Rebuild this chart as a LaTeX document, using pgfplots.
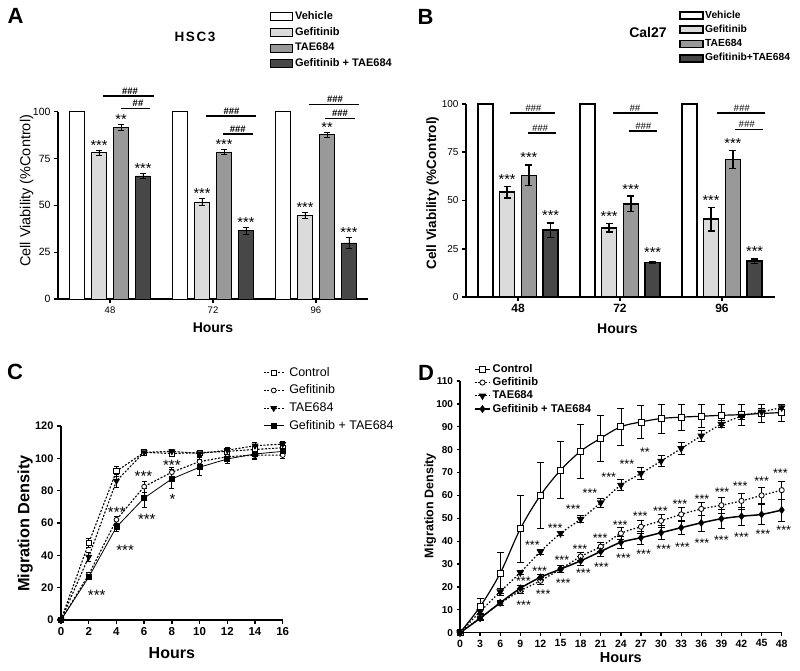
\documentclass[border=0pt]{standalone}
\usepackage{pgfplots}
\pgfplotsset{compat=1.18}
\usepackage{fontspec}
\setmainfont{Liberation Sans}
\newcommand{\fs}[1]{\fontsize{#1}{#1}\selectfont}
\definecolor{cgef}{gray}{0.86}
\definecolor{ctae}{gray}{0.6}
\definecolor{ccomb}{gray}{0.28}

\tikzset{
  starA/.style={font=\fs{14.5}, inner sep=0pt, anchor=base},
  starC/.style={font=\fs{15}, inner sep=0pt, anchor=center, yshift=-3.3pt},
  starD/.style={font=\fs{12.5}, inner sep=0pt, anchor=center, yshift=-2.7pt},
  sig/.style={font=\bfseries\fs{9.5}, inner sep=1.5pt, anchor=south},
}
\pgfplotsset{
  gp/.style={scale only axis, anchor=south west, axis lines=left, axis line style={-},
    tick align=outside, major tick length=4pt, tick style={black},
    /pgf/number format/assume math mode=true, clip=false, legend cell align=left},
  aboxA/.style={legend image code/.code={\draw[##1] (0pt,-4pt) rectangle (22pt,4pt); \path (24pt,0pt);}},
  aboxB/.style={legend image code/.code={\draw[##1] (0pt,-3.5pt) rectangle (23pt,3.5pt); \path (24.5pt,0pt);}},
  lineC/.style={legend image code/.code={\draw[mark repeat=2,mark phase=2,##1] plot coordinates {(0pt,0pt) (10pt,0pt) (20pt,0pt)}; \path (25pt,0pt);}},
  lineD/.style={legend image code/.code={\draw[mark repeat=2,mark phase=2,##1] plot coordinates {(0pt,0pt) (7.5pt,0pt) (15pt,0pt)}; \path (17pt,0pt);}},
  barA/.style={ybar, bar width=0.146, bar shift=0pt, draw=black, line width=0.8pt, aboxA},
  barB/.style={ybar, bar width=0.147, bar shift=0pt, draw=black, line width=1.6pt, aboxB},
  ebA/.style={error bars/.cd, y dir=both, y explicit,
    error bar style={line width=0.8pt, black, solid},
    error mark options={rotate=90, mark size=3pt, line width=0.8pt, black, solid}},
  ebB/.style={error bars/.cd, y dir=both, y explicit,
    error bar style={line width=1.3pt, black, solid},
    error mark options={rotate=90, mark size=3.5pt, line width=1.3pt, black, solid}},
  ebC/.style={error bars/.cd, y dir=both, y explicit,
    error bar style={line width=0.8pt, black, solid},
    error mark options={rotate=90, mark size=2.5pt, line width=0.8pt, black, solid}},
  ebD/.style={error bars/.cd, y dir=both, y explicit,
    error bar style={line width=0.7pt, black, solid},
    error mark options={rotate=90, mark size=3.5pt, line width=0.7pt, black, solid}},
}

\begin{document}
\begin{tikzpicture}
\path[use as bounding box] (0,0) rectangle (800pt,671pt);

% ---------------- A ----------------
\begin{axis}[gp, at={(58pt,372pt)}, width=310pt, height=187.3pt,
  xmin=0.495, xmax=3.505, ymin=0, ymax=100,
  xtick={1,2,3}, xticklabels={48,72,96}, ytick={0,25,50,75,100},
  axis line style={line width=1.2pt}, tick style={line width=1.2pt},
  xticklabel style={font=\fs{9.5}}, yticklabel style={font=\fs{10.5}},
  xlabel={Hours}, xlabel style={font=\bfseries\fs{14}, at={(axis description cs:0.5,-0.155)}, anchor=center},
  ylabel={Cell Viability (\%Control)}, ylabel style={font=\fs{14.5}, at={(axis description cs:-0.101,0.577)}, anchor=center},
  legend style={at={(axis description cs:0.684,1.535)}, anchor=north west, draw=none, fill=none,
    font=\bfseries\fs{11}, row sep=5.25pt, inner sep=0pt,
    nodes={inner sep=0pt, text height=8pt, text depth=2.4pt}},
]
\addplot[barA, fill=white] coordinates {(0.68,100) (1.68,100) (2.68,100)};
\addlegendentry{Vehicle}
\addplot[barA, fill=cgef, ebA] coordinates {(0.893,78) +- (0,1.5) (1.893,51.8) +- (0,2) (2.893,44.7) +- (0,1.5)};
\addlegendentry{Gefitinib}
\addplot[barA, fill=ctae, ebA] coordinates {(1.107,91.7) +- (0,1.5) (2.107,78.5) +- (0,1.5) (3.107,87.7) +- (0,1.2)};
\addlegendentry{TAE684}
\addplot[barA, fill=ccomb, ebA] coordinates {(1.32,65.7) +- (0,1.2) (2.32,36.5) +- (0,1.8) (3.32,29.9) +- (0,3)};
\addlegendentry{Gefitinib + TAE684}
% significance
\node[starA] at (axis cs:0.893,79.5) {***};
\node[starA] at (axis cs:1.893,53.8) {***};
\node[starA] at (axis cs:2.893,46.2) {***};
\node[starA] at (axis cs:1.107,93.2) {**};
\node[starA] at (axis cs:2.107,80) {***};
\node[starA] at (axis cs:3.107,88.9) {**};
\node[starA] at (axis cs:1.32,66.9) {***};
\node[starA] at (axis cs:2.32,38.3) {***};
\node[starA] at (axis cs:3.32,32.9) {***};
\draw[line width=1.1pt] (axis cs:0.932,108.4) -- (axis cs:1.427,108.4);
\node[sig] at (axis cs:1.194,108.4) {\#\#\#};
\draw[line width=1.1pt] (axis cs:1.104,101.8) -- (axis cs:1.388,101.8);
\node[sig] at (axis cs:1.272,101.8) {\#\#};
\draw[line width=1.1pt] (axis cs:1.929,97.7) -- (axis cs:2.417,97.7);
\node[sig] at (axis cs:2.18,97.7) {\#\#\#};
\draw[line width=1.1pt] (axis cs:2.094,88.1) -- (axis cs:2.385,88.1);
\node[sig] at (axis cs:2.24,88.1) {\#\#\#};
\draw[line width=1.1pt] (axis cs:2.929,103.9) -- (axis cs:3.42,103.9);
\node[sig] at (axis cs:3.184,103.9) {\#\#\#};
\draw[line width=1.1pt] (axis cs:3.087,96.3) -- (axis cs:3.381,96.3);
\node[sig] at (axis cs:3.233,96.3) {\#\#\#};
\end{axis}

% ---------------- B ----------------
\begin{axis}[gp, at={(466pt,374pt)}, width=309pt, height=193pt,
  xmin=0.49, xmax=3.52, ymin=0, ymax=100,
  xtick={1,2,3}, xticklabels={48,72,96}, ytick={0,25,50,75,100},
  axis line style={line width=2pt}, tick style={line width=1.6pt},
  xticklabel style={font=\bfseries\fs{12}}, yticklabel style={font=\fs{10}},
  xlabel={Hours}, xlabel style={font=\bfseries\fs{14}, at={(axis description cs:0.49,-0.166)}, anchor=center},
  ylabel={Cell Viability (\%Control)}, ylabel style={font=\bfseries\fs{13.5}, at={(axis description cs:-0.108,0.539)}, anchor=center},
  legend style={at={(axis description cs:0.689,1.485)}, anchor=north west, draw=none, fill=none,
    font=\bfseries\fs{10.3}, row sep=4.8pt, inner sep=0pt,
    nodes={inner sep=0pt, text height=7.5pt, text depth=2pt}},
]
\addplot[barB, fill=white] coordinates {(0.68,100) (1.68,100) (2.68,100)};
\addlegendentry{Vehicle}
\addplot[barB, fill=cgef, ebB] coordinates {(0.893,54.3) +- (0,3) (1.893,35.8) +- (0,2.1) (2.893,40.3) +- (0,6.1)};
\addlegendentry{Gefitinib}
\addplot[barB, fill=ctae, ebB] coordinates {(1.107,63) +- (0,5.4) (2.107,48.3) +- (0,4) (3.107,71.3) +- (0,4.7)};
\addlegendentry{TAE684}
\addplot[barB, fill=ccomb, ebB] coordinates {(1.32,34.6) +- (0,3.8) (2.32,17.8) +- (0,0.5) (3.32,18.5) +- (0,1.2)};
\addlegendentry{Gefitinib+TAE684}
\node[starA, yshift=2pt] at (axis cs:0.893,57.3) {***};
\node[starA, yshift=2pt] at (axis cs:1.893,37.9) {***};
\node[starA, yshift=2pt] at (axis cs:2.893,46.4) {***};
\node[starA, yshift=2pt] at (axis cs:1.107,68.4) {***};
\node[starA, yshift=2pt] at (axis cs:2.107,52.3) {***};
\node[starA, yshift=2pt] at (axis cs:3.107,76) {***};
\node[starA, yshift=2pt] at (axis cs:1.32,38.4) {***};
\node[starA, yshift=4pt] at (axis cs:2.32,18.3) {***};
\node[starA, yshift=2pt] at (axis cs:3.32,19.7) {***};
\draw[line width=1.4pt] (axis cs:0.922,95.3) -- (axis cs:1.36,95.3);
\node[sig, font=\itshape\fs{9.5}] at (axis cs:1.15,95.3) {\#\#\#};
\draw[line width=1.4pt] (axis cs:1.101,85) -- (axis cs:1.373,85);
\node[sig, font=\itshape\fs{9.5}] at (axis cs:1.216,85) {\#\#\#};
\draw[line width=1.4pt] (axis cs:1.934,95.3) -- (axis cs:2.375,95.3);
\node[sig, font=\itshape\fs{9.5}] at (axis cs:2.147,95.3) {\#\#};
\draw[line width=1.4pt] (axis cs:2.091,86) -- (axis cs:2.366,86);
\node[sig, font=\itshape\fs{9.5}] at (axis cs:2.228,86) {\#\#\#};
\draw[line width=1.4pt] (axis cs:2.948,95.3) -- (axis cs:3.42,95.3);
\node[sig, font=\itshape\fs{9.5}] at (axis cs:3.193,95.3) {\#\#\#};
\draw[line width=1.4pt] (axis cs:3.127,86.9) -- (axis cs:3.399,86.9);
\node[sig, font=\itshape\fs{9.5}] at (axis cs:3.242,86.9) {\#\#\#};
\end{axis}

% ---------------- C ----------------
\begin{axis}[gp, at={(61pt,51pt)}, width=221.7pt, height=194pt,
  xmin=0, xmax=16, ymin=0, ymax=120,
  xtick={0,2,...,16}, ytick={0,20,...,120},
  axis line style={line width=1.8pt}, tick style={line width=1.5pt},
  xticklabel style={font=\bfseries\fs{11.5}}, yticklabel style={font=\bfseries\fs{11}},
  xlabel={Hours}, xlabel style={font=\bfseries\fs{16}, at={(axis description cs:0.5,-0.17)}, anchor=center},
  ylabel={Migration Density}, ylabel style={font=\bfseries\fs{16.3}, at={(axis description cs:-0.162,0.497)}, anchor=center},
  lineC,
  legend style={at={(axis description cs:0.911,1.305)}, anchor=north west, draw=none, fill=none,
    font=\fs{12.5}, row sep=6.3pt, inner sep=0pt,
    nodes={inner sep=0pt, text height=9pt, text depth=2.4pt}},
]
\addplot[black, line width=1.1pt, dash pattern=on 2pt off 1.6pt, mark=square*, mark size=2.6pt,
  mark options={solid, fill=white, line width=0.8pt}, ebC]
  coordinates {(0,0) +- (0,0) (2,47.6) +- (0,3) (4,92) +- (0,3) (6,103.7) +- (0,1.5) (8,103) +- (0,1.5) (10,103.5) +- (0,1.5) (12,104.3) +- (0,2) (14,105.5) +- (0,2) (16,106.5) +- (0,2)};
\addlegendentry{Control}
\addplot[black, line width=1.1pt, dash pattern=on 2pt off 1.6pt, mark=*, mark size=2.4pt,
  mark options={solid, fill=white, line width=0.8pt}, ebC]
  coordinates {(0,0) +- (0,0) (2,28) +- (0,1.5) (4,62) +- (0,2) (6,82.5) +- (0,3.5) (8,91.4) +- (0,3) (10,98) +- (0,2.5) (12,101) +- (0,2) (14,102) +- (0,2.5) (16,102) +- (0,2)};
\addlegendentry{Gefitinib}
\addplot[black, line width=1.1pt, dash pattern=on 2pt off 1.6pt, mark=triangle*, mark size=3pt,
  mark options={solid, rotate=180}, ebC]
  coordinates {(0,0) +- (0,0) (2,39) +- (0,3) (4,86) +- (0,4) (6,103.7) +- (0,1.5) (8,104.3) +- (0,1.5) (10,103) +- (0,1.5) (12,105) +- (0,1.5) (14,107.8) +- (0,2) (16,108.8) +- (0,1.5)};
\addlegendentry{TAE684}
\addplot[black, line width=0.8pt, mark=square*, mark size=2.5pt, mark options={solid}, ebC]
  coordinates {(0,0) +- (0,0) (2,26.5) +- (0,1.5) (4,57.5) +- (0,2.5) (6,75.4) +- (0,6) (8,87.3) +- (0,6) (10,94.5) +- (0,5) (12,99.6) +- (0,2.5) (14,102.7) +- (0,3) (16,104.3) +- (0,2)};
\addlegendentry{Gefitinib + TAE684}
\node[starC] at (axis cs:5.95,90.8) {***};
\node[starC] at (axis cs:8.0,97.5) {***};
\node[starC] at (axis cs:4.02,68.8) {***};
\node[starC] at (axis cs:6.19,64.3) {***};
\node[starC] at (axis cs:8.05,76.8) {*};
\node[starC] at (axis cs:4.63,45.2) {***};
\node[starC] at (axis cs:2.58,17.5) {***};
\end{axis}

% ---------------- D ----------------
\begin{axis}[gp, at={(460pt,38.3pt)}, width=321.7pt, height=251.7pt,
  xmin=0, xmax=48, ymin=0, ymax=110,
  xtick={0,3,...,48}, ytick={0,10,...,110},
  axis line style={line width=1.6pt}, tick style={line width=1.3pt}, major tick length=3.5pt,
  xticklabel style={font=\bfseries\fs{10.5}}, yticklabel style={font=\bfseries\fs{10}},
  xlabel={Hours}, xlabel style={font=\bfseries\fs{14.5}, at={(axis description cs:0.5,-0.1)}, anchor=center},
  ylabel={Migration Density}, ylabel style={font=\bfseries\fs{12.5}, at={(axis description cs:-0.093,0.505)}, anchor=center},
  lineD,
  legend style={at={(axis description cs:0.0435,1.068)}, anchor=north west, draw=none, fill=none,
    font=\bfseries\fs{11.2}, row sep=2.85pt, inner sep=0pt,
    nodes={inner sep=0pt, text height=8.2pt, text depth=2.2pt}},
]
\addplot[black, line width=1.2pt, smooth, tension=0.55, mark=square*, mark size=3pt,
  mark options={solid, fill=white, line width=0.8pt}, ebD]
  coordinates {(0,0) +- (0,0) (3,11.4) +- (0,3.5) (6,26) +- (0,9) (9,45.4) +- (0,14.6) (12,60) +- (0,14.5) (15,71) +- (0,12.5) (18,79.3) +- (0,11.7) (21,85) +- (0,10.2) (24,90) +- (0,8) (27,92.1) +- (0,7.3) (30,93.6) +- (0,6.3) (33,94.2) +- (0,5.6) (36,94.6) +- (0,5) (39,95) +- (0,4.6) (42,95.3) +- (0,4.5) (45,95.8) +- (0,4) (48,96.2) +- (0,3.8)};
\addlegendentry{Control}
\addplot[black, line width=1.3pt, smooth, tension=0.55, dash pattern=on 1.5pt off 2pt, mark=*, mark size=2.6pt,
  mark options={solid, fill=white, line width=0.8pt}, ebD]
  coordinates {(0,0) +- (0,0) (3,6.5) +- (0,0.8) (6,12.8) +- (0,1) (9,18.3) +- (0,1.2) (12,22.7) +- (0,1.5) (15,27.8) +- (0,1.5) (18,33.3) +- (0,1.8) (21,37.6) +- (0,2) (24,43.4) +- (0,2.5) (27,46.3) +- (0,3) (30,48.9) +- (0,3) (33,51.7) +- (0,3) (36,54.1) +- (0,3) (39,55.7) +- (0,3.5) (42,57.6) +- (0,3.5) (45,60) +- (0,3.5) (48,62.3) +- (0,4)};
\addlegendentry{Gefitinib}
\addplot[black, line width=1.3pt, smooth, tension=0.55, dash pattern=on 1.5pt off 2pt, mark=triangle*, mark size=3.2pt,
  mark options={solid, rotate=180}, ebD]
  coordinates {(0,0) +- (0,0) (3,9.2) +- (0,0.8) (6,17.9) +- (0,1.5) (9,26.3) +- (0,1) (12,35.4) +- (0,1) (15,43.4) +- (0,1) (18,49.6) +- (0,1.5) (21,56.8) +- (0,2) (24,64.5) +- (0,2.5) (27,69.6) +- (0,2.5) (30,75) +- (0,2.5) (33,80.5) +- (0,2.5) (36,86) +- (0,2.5) (39,91.1) +- (0,1.5) (42,94.6) +- (0,1.5) (45,96.5) +- (0,1.5) (48,98.4) +- (0,1.5)};
\addlegendentry{TAE684}
\addplot[black, line width=1.5pt, smooth, tension=0.55, mark=diamond*, mark size=2.8pt, mark options={solid}, ebD]
  coordinates {(0,0) +- (0,0) (3,6.3) +- (0,0.8) (6,13.1) +- (0,1) (9,19.4) +- (0,1.2) (12,24.2) +- (0,1.5) (15,27.8) +- (0,1.5) (18,31.4) +- (0,1.8) (21,35.5) +- (0,2) (24,39.5) +- (0,2.5) (27,41.5) +- (0,3) (30,43.7) +- (0,3) (33,45.9) +- (0,3) (36,48) +- (0,3.5) (39,49.8) +- (0,4) (42,50.9) +- (0,4) (45,51.7) +- (0,4.5) (48,53.6) +- (0,4.8)};
\addlegendentry{Gefitinib + TAE684}
% TAE684 vs control
\node[starD] at (axis cs:10.8,39.3) {***};
\node[starD] at (axis cs:14.2,47) {***};
\node[starD] at (axis cs:16.9,55) {***};
\node[starD] at (axis cs:19.4,62) {***};
\node[starD] at (axis cs:22.2,69.3) {***};
\node[starD] at (axis cs:24.9,74.7) {***};
\node[starD] at (axis cs:27.6,80) {**};
% Gefitinib vs control
\node[starD] at (axis cs:9.45,23.5) {***};
\node[starD] at (axis cs:11.9,28.1) {***};
\node[starD] at (axis cs:15.2,33) {***};
\node[starD] at (axis cs:17.9,37.6) {***};
\node[starD] at (axis cs:20.9,42.3) {***};
\node[starD] at (axis cs:23.9,48.3) {***};
\node[starD] at (axis cs:26.9,51.9) {***};
\node[starD] at (axis cs:29.9,54.4) {***};
\node[starD] at (axis cs:32.8,57.3) {***};
\node[starD] at (axis cs:36.1,59.5) {***};
\node[starD] at (axis cs:39.1,62.4) {***};
\node[starD] at (axis cs:41.8,65.3) {***};
\node[starD] at (axis cs:45,67.5) {***};
\node[starD] at (axis cs:47.8,71.1) {***};
% combination vs control
\node[starD] at (axis cs:9.5,13.2) {***};
\node[starD] at (axis cs:12.4,18.2) {***};
\node[starD] at (axis cs:15.4,22.7) {***};
\node[starD] at (axis cs:18.4,27.4) {***};
\node[starD] at (axis cs:21.1,30) {***};
\node[starD] at (axis cs:24.4,33.9) {***};
\node[starD] at (axis cs:27.4,35.4) {***};
\node[starD] at (axis cs:30.4,37.6) {***};
\node[starD] at (axis cs:33.2,38.7) {***};
\node[starD] at (axis cs:36.1,40.5) {***};
\node[starD] at (axis cs:39,41.6) {***};
\node[starD] at (axis cs:42,42.8) {***};
\node[starD] at (axis cs:45.2,44.1) {***};
\node[starD] at (axis cs:48.3,45.9) {***};
\end{axis}

% panel letters and titles
\node[font=\bfseries\fs{22}] at (15.5pt,655pt) {A};
\node[font=\bfseries\fs{22}] at (425.5pt,654.5pt) {B};
\node[font=\bfseries\fs{22}] at (15pt,299pt) {C};
\node[font=\bfseries\fs{22}] at (426pt,298pt) {D};
\node[font=\bfseries\fs{13.5}\addfontfeature{LetterSpace=12}] at (195pt,634.5pt) {HSC3};
\node[font=\bfseries\fs{14}] at (648pt,638pt) {Cal27};
\end{tikzpicture}
\end{document}
